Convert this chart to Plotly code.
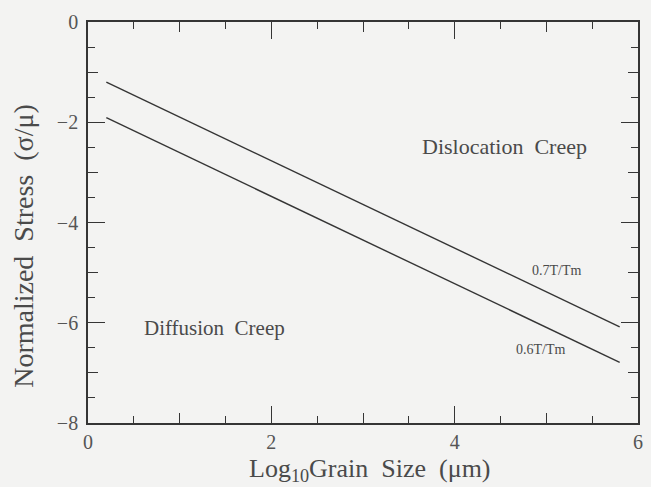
import plotly.graph_objects as go

# Deformation-mechanism boundaries: log10 grain size vs normalized stress
grain_size_log = [0.2, 5.8]
stress_07 = [-1.2, -6.08]
stress_06 = [-1.91, -6.79]

NB = "\u00a0"
region_labels = ["Dislocation" + NB * 2 + "Creep", "Diffusion" + NB * 2 + "Creep"]
region_x = [4.54, 1.38]
region_y = [-2.49, -6.1]
region_sizes = [22, 21]

line_labels = ["0.7T/Tm", "0.6T/Tm"]
line_label_x = [5.11, 4.94]
line_label_y = [-4.95, -6.53]

x_ticks = [0, 2, 4, 6]
y_ticks = [0, -2, -4, -6, -8]
y_tick_text = ["0", "−2", "−4", "−6", "−8"]

x_title = "Log<sub>10</sub>Grain" + NB * 2 + "Size" + NB * 2 + "(μm)"
y_title = "Normalized" + NB * 2 + "Stress" + NB * 2 + "(σ/μ)"

INK = "#353535"
TXT = "#4a4a4a"
FONT = "Liberation Serif"

fig = go.Figure()
for ys in (stress_07, stress_06):
    fig.add_trace(go.Scatter(x=grain_size_log, y=ys, mode="lines",
                             line=dict(color=INK, width=1.4),
                             showlegend=False, hoverinfo="skip"))

for t, x, y, s in zip(region_labels, region_x, region_y, region_sizes):
    fig.add_annotation(x=x, y=y, text=t, showarrow=False,
                       font=dict(family=FONT, size=s, color=TXT))
for t, x, y in zip(line_labels, line_label_x, line_label_y):
    fig.add_annotation(x=x, y=y, text=t, showarrow=False,
                       font=dict(family=FONT, size=14, color=TXT))

# axis titles placed as paper annotations
fig.add_annotation(xref="paper", yref="paper", x=0.5135, y=-0.117,
                   xanchor="center", yanchor="middle", borderpad=0,
                   text=x_title, showarrow=False,
                   font=dict(family=FONT, size=26, color=TXT))
fig.add_annotation(xref="paper", yref="paper", x=-0.117, y=0.441,
                   xanchor="center", yanchor="middle",
                   text=y_title, showarrow=False, textangle=-90,
                   font=dict(family=FONT, size=28, color=TXT))

axis_common = dict(showgrid=False, zeroline=False, showline=True,
                   linecolor=INK, linewidth=1.7, ticks="inside",
                   tickcolor=INK, tickwidth=1.4, ticklen=17, mirror="allticks",
                   tickfont=dict(family=FONT, size=20, color="#555"),
                   minor=dict(ticks="inside", dtick=0.5, ticklen=7,
                              tickcolor=INK, tickwidth=1.2, showgrid=False))

fig.update_layout(
    width=651, height=487,
    margin=dict(l=88, r=8, t=22, b=64),
    paper_bgcolor="#f3f3f2", plot_bgcolor="#f3f3f2",
    xaxis=dict(range=[0, 6], tickvals=x_ticks, ticklabelstandoff=0, **axis_common),
    yaxis=dict(range=[-8, 0], tickvals=y_ticks, ticktext=y_tick_text,
               ticklabelstandoff=4, **axis_common),
    # integer ticks of intermediate length
    xaxis2=dict(overlaying="x", matches="x", range=[0, 6], dtick=1,
                ticks="inside", ticklen=10, tickcolor=INK, tickwidth=1.2,
                showticklabels=False, showgrid=False, zeroline=False,
                mirror="allticks", showline=False, anchor="y"),
    yaxis2=dict(overlaying="y", matches="y", range=[-8, 0], dtick=1,
                ticks="inside", ticklen=10, tickcolor=INK, tickwidth=1.2,
                showticklabels=False, showgrid=False, zeroline=False,
                mirror="allticks", showline=False, anchor="x"),
)
fig.add_trace(go.Scatter(x=[None], y=[None], xaxis="x2", yaxis="y2",
                         showlegend=False, hoverinfo="skip"))

fig.write_html("out.html")
